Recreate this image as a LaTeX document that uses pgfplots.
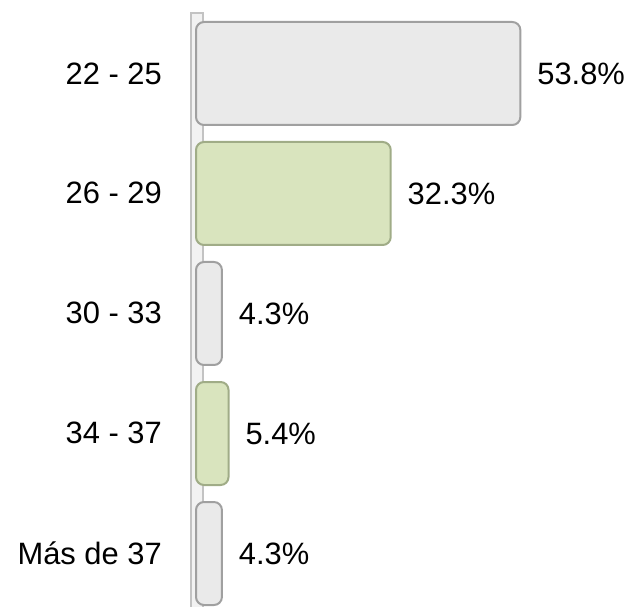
\documentclass[border=0pt]{standalone}
\usepackage{pgfplots}
\pgfplotsset{compat=1.18}
\usepackage{fontspec}
\setmainfont{Liberation Sans}

\definecolor{barGrey}{RGB}{234,234,234}
\definecolor{barGreyEdge}{RGB}{160,160,160}
\definecolor{barGreen}{RGB}{217,228,190}
\definecolor{barGreenEdge}{RGB}{160,172,135}
\definecolor{wallLine}{RGB}{195,195,195}

\begin{document}
\begin{tikzpicture}[x=1bp,y=1bp]
% canvas
\path (0,0) rectangle (633,607);
% axis wall
\fill[white!95!black] (191,0) rectangle (203,594);
\draw[wallLine, line width=1.6bp] (191,0) -- (191,594) -- (203,594) -- (203,0);

\begin{axis}[
    at={(196bp,593.5bp)},
    anchor=north west,
    scale only axis,
    width=422bp,
    height=592.8bp,
    xbar,
    bar width=103bp,
    bar shift=0pt,
    xmin=0, xmax=70,
    ymin=-0.5, ymax=4.44,
    y dir=reverse,
    axis lines=none,
    clip=false,
    ytick={0,1,2,3,4},
    yticklabels={22 - 25, 26 - 29, 30 - 33, 34 - 37, Más de 37},
    nodes near coords={\pgfmathprintnumber[fixed,precision=1,fixed zerofill]{\pgfplotspointmeta}\%},
    every node near coord/.append style={anchor=west, inner sep=0pt, xshift=16bp,
        font=\fontsize{31}{31}\selectfont, text=black},
    /pgf/number format/assume math mode=true,
]
\addplot[fill=barGrey, draw=barGreyEdge, line width=2bp, rounded corners=8bp]
    coordinates {(53.8,0) (4.3,2) (4.3,4)};
\addplot[fill=barGreen, draw=barGreenEdge, line width=2bp, rounded corners=8bp]
    coordinates {(32.3,1) (5.4,3)};
\end{axis}

% category labels (right aligned left of the wall)
\foreach \lab/\yy in {{22 - 25}/533.5, {26 - 29}/414, {30 - 33}/294, {34 - 37}/174, {Más de 37}/54}
    \node[anchor=east, inner sep=0pt, font=\fontsize{31}{31}\selectfont] at (162,\yy) {\lab};
\end{tikzpicture}
\end{document}
